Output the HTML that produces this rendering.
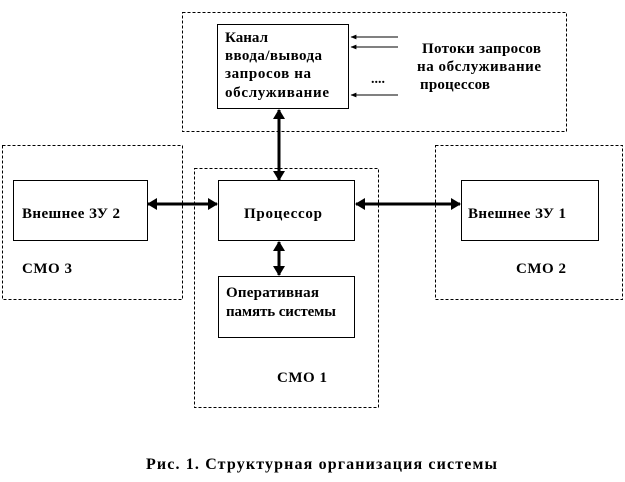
<!DOCTYPE html>
<html><head><meta charset="utf-8"><style>
html,body{margin:0;padding:0;background:#fff;}
svg{display:block;}
text{font-family:"Liberation Serif",serif;font-weight:bold;fill:#000;}
</style></head><body>
<svg width="625" height="482" viewBox="0 0 625 482" xmlns="http://www.w3.org/2000/svg">
<defs>
<marker id="ah" viewBox="0 0 10 12" refX="9" refY="6" markerWidth="10" markerHeight="12" orient="auto-start-reverse" markerUnits="userSpaceOnUse"><path d="M0,0 L10,6 L0,12 z" fill="#000"/></marker>
<marker id="sa" viewBox="0 0 10 10" refX="9" refY="5" markerWidth="6" markerHeight="6" orient="auto" markerUnits="userSpaceOnUse"><path d="M0,1 L10,5 L0,9 z" fill="#000"/></marker>
</defs>
<g fill="none" stroke="#000" stroke-width="1" stroke-dasharray="3,2">
<rect x="182.5" y="12.5" width="384" height="119"/>
<rect x="2.5" y="145.5" width="180" height="154"/>
<rect x="194.5" y="168.5" width="184" height="239"/>
<rect x="435.5" y="145.5" width="187" height="154"/>
</g>
<g fill="#fff" stroke="#000" stroke-width="1">
<rect x="217.5" y="24.5" width="131" height="84"/>
<rect x="13.5" y="180.5" width="134" height="60"/>
<rect x="218.5" y="180.5" width="136" height="60"/>
<rect x="218.5" y="276.5" width="136" height="61"/>
<rect x="461.5" y="180.5" width="137" height="60"/>
</g>
<g stroke="#000" stroke-width="1">
<line x1="398" y1="37" x2="351" y2="37" marker-end="url(#sa)"/>
<line x1="398" y1="47" x2="351" y2="47" marker-end="url(#sa)"/>
<line x1="398" y1="95" x2="351" y2="95" marker-end="url(#sa)"/>
</g>
<g stroke="#000" stroke-width="3">
<line x1="279" y1="110" x2="279" y2="180" marker-start="url(#ah)" marker-end="url(#ah)"/>
<line x1="279" y1="242" x2="279" y2="275" marker-start="url(#ah)" marker-end="url(#ah)"/>
<line x1="148" y1="204" x2="217" y2="204" marker-start="url(#ah)" marker-end="url(#ah)"/>
<line x1="356" y1="204" x2="460" y2="204" marker-start="url(#ah)" marker-end="url(#ah)"/>
</g>
<text x="371" y="83" font-size="14">....</text>
<g font-size="15">
<text x="225" y="42" textLength="43">Канал</text>
<text x="225" y="60" textLength="97">ввода/вывода</text>
<text x="225" y="78" textLength="86">запросов на</text>
<text x="225" y="97" textLength="104">обслуживание</text>
<text x="422" y="53" textLength="119">Потоки запросов</text>
<text x="417" y="71" textLength="124">на  обслуживание</text>
<text x="420" y="89" textLength="70">процессов</text>
<text x="22" y="218" textLength="98">Внешнее ЗУ 2</text>
<text x="244" y="218" textLength="78">Процессор</text>
<text x="468" y="218" textLength="98">Внешнее ЗУ 1</text>
<text x="226" y="297" textLength="93">Оперативная</text>
<text x="226" y="316" textLength="110">память системы</text>
<text x="22" y="273" textLength="50">СМО 3</text>
<text x="516" y="273" textLength="50">СМО 2</text>
<text x="277" y="382" textLength="50">СМО 1</text>
</g>
<text x="146" y="469" font-size="16" textLength="351">Рис. 1.  Структурная организация системы</text>
</svg>
</body></html>
